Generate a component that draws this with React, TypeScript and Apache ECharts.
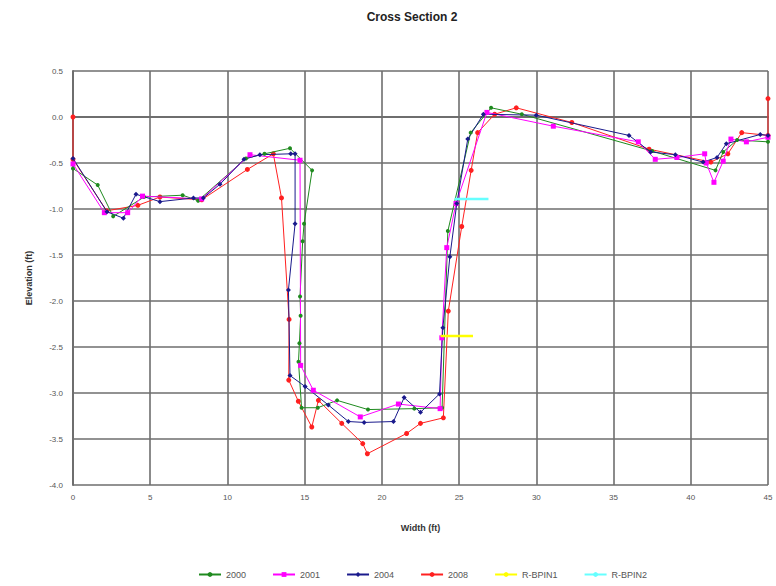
import React, { useEffect, useRef } from "react";
import * as echarts from "echarts";

const s2000: [number, number][] = [
  [0, -0.56], [1.6, -0.74], [2.6, -1.08], [4.6, -0.87], [7.1, -0.85], [8.1, -0.91],
  [11.2, -0.45], [12.4, -0.4], [14.05, -0.34], [15.48, -0.58], [14.96, -1.16], [14.87, -1.35],
  [14.7, -1.95], [14.74, -2.16], [14.66, -2.46], [14.6, -2.66], [14.8, -3.16], [15.85, -3.16],
  [17.1, -3.08], [19.1, -3.18], [22.1, -3.17], [23.9, -3.16], [24.27, -1.24], [25.75, -0.17],
  [27.07, 0.1], [29.06, 0.03], [37.5, -0.37], [41.6, -0.58], [42.1, -0.38], [43, -0.25], [45, -0.27],
];
const s2001: [number, number][] = [
  [0, -0.51], [2.03, -1.04], [3.54, -1.04], [4.5, -0.86], [8.33, -0.89], [11.46, -0.41],
  [14.7, -0.47], [14.74, -2.7], [15.56, -2.97], [18.6, -3.26], [21.07, -3.12], [23.77, -3.17],
  [23.88, -2.4], [24.2, -1.42], [24.8, -0.94], [26.8, 0.05], [31.1, -0.1], [36.6, -0.27],
  [37.7, -0.46], [39.1, -0.44], [40.9, -0.4], [41.0, -0.5], [41.5, -0.71], [42.1, -0.48],
  [42.6, -0.24], [43.6, -0.27], [45, -0.22],
];
const s2004: [number, number][] = [
  [0, -0.45], [2.2, -1.03], [3.26, -1.1], [4.08, -0.84], [5.63, -0.92], [7.8, -0.88],
  [8.44, -0.88], [9.52, -0.73], [11.07, -0.46], [12.1, -0.41], [14.1, -0.4], [14.38, -0.4],
  [14.38, -1.16], [13.95, -1.88], [14.05, -2.81], [15.03, -2.93], [16.53, -3.13], [17.83, -3.31],
  [18.85, -3.32], [20.75, -3.31], [21.44, -3.05], [22.5, -3.21], [23.73, -3.01], [23.95, -2.29],
  [24.4, -1.52], [24.85, -0.94], [25.56, -0.24], [26.57, 0.03], [30.0, 0.02], [36.0, -0.2],
  [37.4, -0.38], [39.0, -0.41], [40.8, -0.49], [41.7, -0.44], [42.3, -0.29], [44.5, -0.19], [45, -0.2],
];
const s2008: [number, number][] = [
  [0, 0.0], [0, -0.46], [2.18, -1.02], [4.2, -0.96], [5.63, -0.87], [8.33, -0.9],
  [11.29, -0.57], [12.97, -0.4], [13.5, -0.88], [13.99, -2.2], [13.97, -2.86], [14.59, -3.09],
  [15.46, -3.37], [15.89, -3.08], [17.4, -3.33], [18.76, -3.55], [19.06, -3.66], [21.6, -3.44],
  [22.5, -3.33], [23.98, -3.27], [24.3, -2.11], [25.17, -1.19], [25.78, -0.58], [26.2, -0.17],
  [27.3, 0.03], [28.7, 0.1], [32.3, -0.06], [37.3, -0.35], [41.3, -0.49], [42.4, -0.4],
  [43.3, -0.17], [45, -0.2], [45, 0.2],
];
const pin1: [number, number][] = [[23.8, -2.38], [25.9, -2.38]];
const pin2: [number, number][] = [[24.7, -0.89], [26.9, -0.89]];

const seriesNames = ["2000", "2001", "2004", "2008", "R-BPIN1", "R-BPIN2"];
const seriesColors = ["#1f8a1f", "#ff00ff", "#1a1a8c", "#ff2020", "#ffff00", "#66ffff"];

export default function App() {
  const ref = useRef<HTMLDivElement>(null);
  useEffect(() => {
    if (!ref.current) return;
    const chart = echarts.init(ref.current, undefined, { renderer: "svg" });
    const datasets = [s2000, s2001, s2004, s2008, pin1, pin2];
    const symbols = ["circle", "rect", "diamond", "circle", "none", "none"];
    const sizes = [4, 5, 5, 5, 0, 0];
    const widths = [1, 1, 1, 1, 2.5, 2.5];
    chart.setOption({
      animation: false,
      backgroundColor: "#ffffff",
      title: {
        text: "Cross Section 2",
        left: 407,
        top: 6,
        textAlign: "center",
        textStyle: { fontSize: 12, fontWeight: "bold", color: "#222", fontFamily: "Liberation Sans, Arial, sans-serif" },
      },
      legend: {
        bottom: 2,
        left: 193,
        itemGap: 26,
        itemWidth: 22,
        itemHeight: 6,
        data: seriesNames,
        textStyle: { fontSize: 9, color: "#555", fontFamily: "Liberation Sans, Arial, sans-serif" },
      },
      grid: { left: 73, right: 8, top: 71, bottom: 101 },
      xAxis: {
        type: "value",
        min: 0,
        max: 45,
        interval: 5,
        name: "Width (ft)",
        nameLocation: "middle",
        nameGap: 38,
        nameTextStyle: { fontSize: 9, fontWeight: "bold", color: "#333", fontFamily: "Liberation Sans, Arial, sans-serif" },
        axisLine: { lineStyle: { color: "#6e6e6e", width: 2 } },
        axisTick: { show: false },
        axisLabel: { fontSize: 8, color: "#555", margin: 8, fontFamily: "Liberation Sans, Arial, sans-serif" },
        splitLine: { show: true, lineStyle: { color: "#6e6e6e", width: 1.6 } },
      },
      yAxis: {
        type: "value",
        min: -4,
        max: 0.5,
        interval: 0.5,
        name: "Elevation (ft)",
        nameLocation: "middle",
        nameGap: 40,
        nameTextStyle: { fontSize: 9, fontWeight: "bold", color: "#333", fontFamily: "Liberation Sans, Arial, sans-serif" },
        axisLine: { show: true, lineStyle: { color: "#6e6e6e", width: 2 } },
        axisTick: { show: false },
        axisLabel: {
          fontSize: 8,
          color: "#555",
          margin: 10,
          fontFamily: "Liberation Sans, Arial, sans-serif",
          formatter: (v: number) => v.toFixed(1),
        },
        splitLine: { show: true, lineStyle: { color: "#6e6e6e", width: 1.6 } },
      },
      series: datasets.map((d, i) => ({
        name: seriesNames[i],
        type: "line",
        data: d,
        symbol: symbols[i],
        symbolSize: sizes[i],
        showSymbol: symbols[i] !== "none",
        color: seriesColors[i],
        lineStyle: { color: seriesColors[i], width: widths[i] },
        itemStyle: { color: seriesColors[i] },
        z: i >= 4 ? 3 : 2 + (i === 3 ? -1 : 0),
      })),
    });
    return () => chart.dispose();
  }, []);
  return <div ref={ref} style={{ width: 776, height: 586, position: "absolute", left: 0, top: 0 }} />;
}
